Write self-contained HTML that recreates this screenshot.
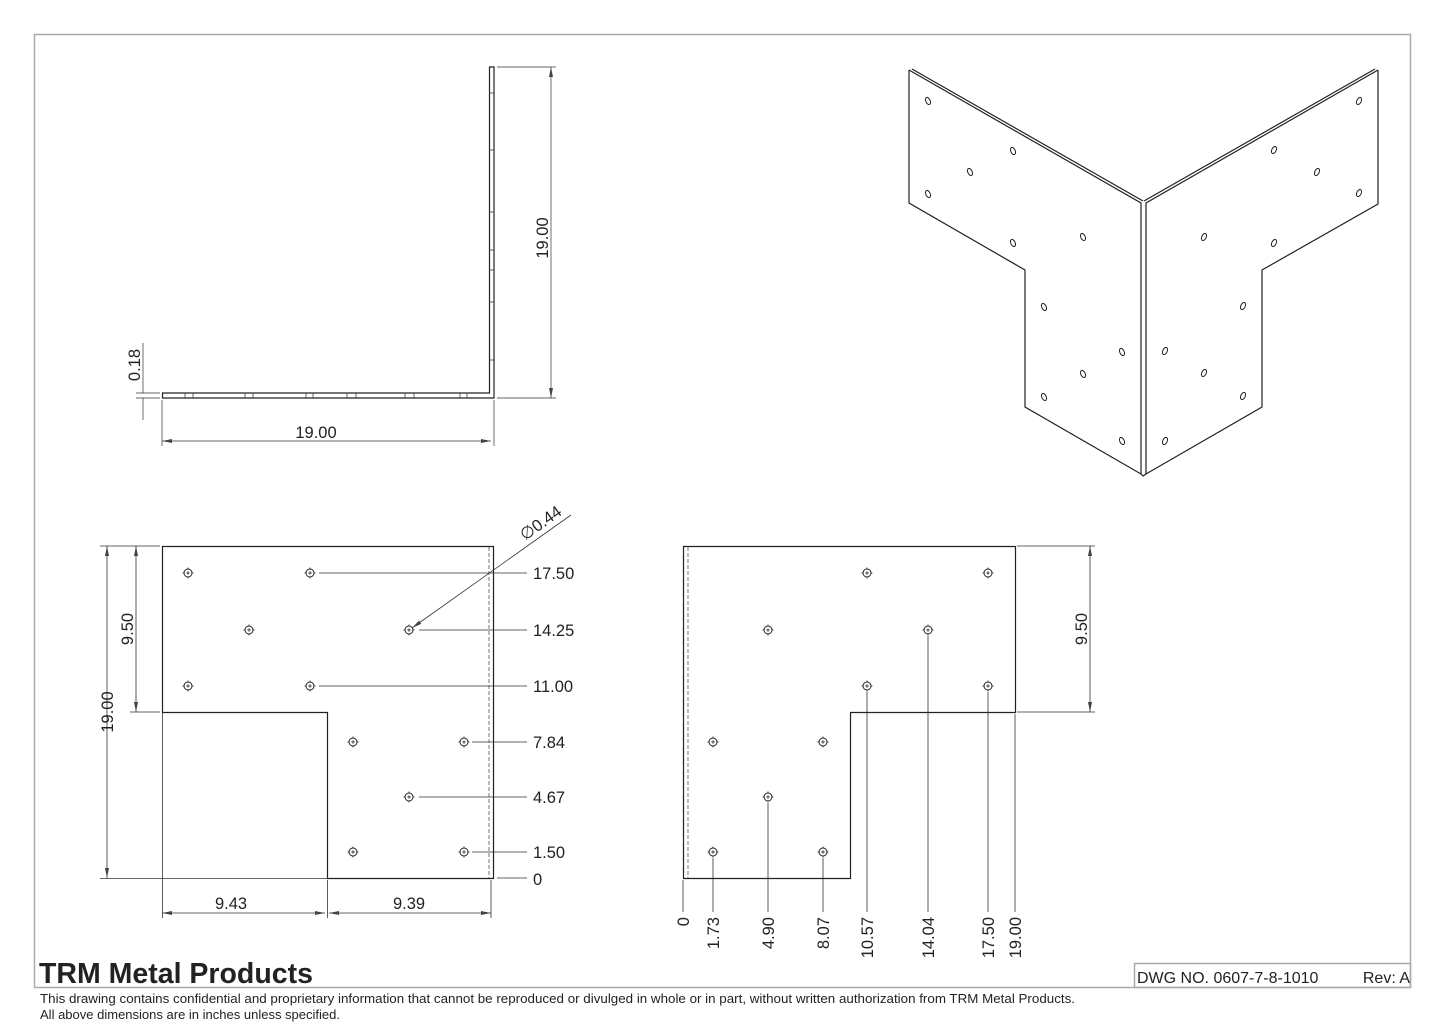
<!DOCTYPE html>
<html><head><meta charset="utf-8"><style>
html,body{margin:0;padding:0;background:#fff;}
svg{display:block;}
text{font-family:"Liberation Sans",sans-serif;fill:#222;}
</style></head><body>
<svg width="1445" height="1022" viewBox="0 0 1445 1022" xmlns="http://www.w3.org/2000/svg">
<defs>
<g id="h"><circle r="4" fill="none" stroke="#222" stroke-width="1"/><path d="M-1.8 0H1.8M0 -1.8V1.8M-5.5 0H-4M4 0H5.5M0 -5.5V-4M0 4V5.5" stroke="#222" stroke-width="0.8"/></g>
<marker id="a" viewBox="0 0 10 4" refX="10" refY="2" markerWidth="10" markerHeight="4" orient="auto-start-reverse" markerUnits="userSpaceOnUse"><path d="M0 0L10 2L0 4z" fill="#444"/></marker>
</defs>
<!-- frame -->
<rect x="34.5" y="34.5" width="1376" height="953" fill="none" stroke="#aaa" stroke-width="1.5"/>
<rect x="1134.5" y="963.5" width="276" height="24" fill="none" stroke="#aaa" stroke-width="1.5"/>
<text x="1137" y="983" font-size="16">DWG NO. 0607-7-8-1010</text>
<text x="1410" y="983" font-size="16" text-anchor="end">Rev: A</text>
<text x="39" y="983" font-size="28.5" font-weight="bold" fill="#111">TRM Metal Products</text>
<text x="40" y="1003" font-size="13" textLength="1035" lengthAdjust="spacingAndGlyphs">This drawing contains confidential and proprietary information that cannot be reproduced or divulged in whole or in part, without written authorization from TRM Metal Products.</text>
<text x="40" y="1019" font-size="13" textLength="300" lengthAdjust="spacingAndGlyphs">All above dimensions are in inches unless specified.</text>

<!-- TOP LEFT L view -->
<g stroke="#222" fill="none" stroke-width="1.2">
<path d="M489.5 67V393H162.5V398H494V67Z"/>
</g>
<g stroke="#333" stroke-width="0.7">
<path d="M489 93h5M489 150h5M489 212h5M489 250h5M489 270h5M489 302h5M489 360h5M185 393v5M193 393v5M245 393v5M253 393v5M306 393v5M313 393v5M347 393v5M356 393v5M405 393v5M414 393v5M460 393v5M467 393v5"/>
<path d="M497 67H556M497 398H556"/>
<path d="M551 67V398" marker-start="url(#a)" marker-end="url(#a)"/>
<path d="M162 400V446M494 400V446"/>
<path d="M162 441H491" marker-start="url(#a)" marker-end="url(#a)"/>
<path d="M143 343V393M143 398V420M136 393H160M136 398H160"/>
</g>
<g font-size="16.5">
<text text-anchor="middle" transform="translate(548 238) rotate(-90)">19.00</text>
<text x="316" y="438" text-anchor="middle">19.00</text>
<text text-anchor="middle" transform="translate(140 365) rotate(-90)">0.18</text>
</g>

<!-- ISO view -->
<g stroke="#222" fill="none" stroke-width="1.2">
<path d="M909 70V203L1025 270V407L1141 474V203L909 70"/>
<path d="M912 69L1143 201"/>
<path d="M1378 70V204L1262 270V407L1146 474V203L1378 70"/>
<path d="M1375 69L1144 201"/>
<path d="M1141 474L1143 476L1146 474"/>
</g>
<g fill="none" stroke="#222" stroke-width="1">
<ellipse cx="928" cy="101" rx="2.2" ry="3.8" transform="rotate(-25 928 101)"/>
<ellipse cx="1013" cy="151" rx="2.2" ry="3.8" transform="rotate(-25 1013 151)"/>
<ellipse cx="970" cy="172" rx="2.2" ry="3.8" transform="rotate(-25 970 172)"/>
<ellipse cx="928" cy="194" rx="2.2" ry="3.8" transform="rotate(-25 928 194)"/>
<ellipse cx="1013" cy="243" rx="2.2" ry="3.8" transform="rotate(-25 1013 243)"/>
<ellipse cx="1083" cy="237" rx="2.2" ry="3.8" transform="rotate(-25 1083 237)"/>
<ellipse cx="1044" cy="307" rx="2.2" ry="3.8" transform="rotate(-25 1044 307)"/>
<ellipse cx="1122" cy="352" rx="2.2" ry="3.8" transform="rotate(-25 1122 352)"/>
<ellipse cx="1083" cy="374" rx="2.2" ry="3.8" transform="rotate(-25 1083 374)"/>
<ellipse cx="1044" cy="397" rx="2.2" ry="3.8" transform="rotate(-25 1044 397)"/>
<ellipse cx="1122" cy="441" rx="2.2" ry="3.8" transform="rotate(-25 1122 441)"/>
<ellipse cx="1359" cy="101" rx="2.2" ry="3.8" transform="rotate(25 1359 101)"/>
<ellipse cx="1274" cy="150" rx="2.2" ry="3.8" transform="rotate(25 1274 150)"/>
<ellipse cx="1317" cy="172" rx="2.2" ry="3.8" transform="rotate(25 1317 172)"/>
<ellipse cx="1359" cy="193" rx="2.2" ry="3.8" transform="rotate(25 1359 193)"/>
<ellipse cx="1204" cy="237" rx="2.2" ry="3.8" transform="rotate(25 1204 237)"/>
<ellipse cx="1274" cy="243" rx="2.2" ry="3.8" transform="rotate(25 1274 243)"/>
<ellipse cx="1243" cy="306" rx="2.2" ry="3.8" transform="rotate(25 1243 306)"/>
<ellipse cx="1165" cy="351" rx="2.2" ry="3.8" transform="rotate(25 1165 351)"/>
<ellipse cx="1204" cy="373" rx="2.2" ry="3.8" transform="rotate(25 1204 373)"/>
<ellipse cx="1243" cy="396" rx="2.2" ry="3.8" transform="rotate(25 1243 396)"/>
<ellipse cx="1165" cy="441" rx="2.2" ry="3.8" transform="rotate(25 1165 441)"/>
</g>

<!-- BOTTOM LEFT flat view -->
<g stroke="#222" fill="none" stroke-width="1.2">
<path d="M162.5 546.5H493.5V878.5H327.5V712.5H162.5Z"/>
</g>
<path d="M489 547V878" stroke="#555" stroke-width="0.8" stroke-dasharray="4 2" fill="none"/>
<g stroke="#333" stroke-width="0.8" fill="none">
<path d="M319 573H527M419 630H527M319 686H527M472 742H527M419 797H527M472 852H527M497 878H527"/>
<path d="M160 546H100M100 878.5H327M160 712H130"/>
<path d="M107 546V878" marker-start="url(#a)" marker-end="url(#a)"/>
<path d="M136 546V712" marker-start="url(#a)" marker-end="url(#a)"/>
<path d="M162.5 712V918M327.5 880V918M491 880V918"/>
<path d="M162 913H325" marker-start="url(#a)" marker-end="url(#a)"/>
<path d="M329 913H491" marker-start="url(#a)" marker-end="url(#a)"/>
<path d="M571 515L412 628" marker-end="url(#a)"/>
</g>
<use href="#h" x="188" y="573"/><use href="#h" x="310" y="573"/><use href="#h" x="249" y="630"/><use href="#h" x="409" y="630"/><use href="#h" x="188" y="686"/><use href="#h" x="310" y="686"/><use href="#h" x="353" y="742"/><use href="#h" x="464" y="742"/><use href="#h" x="409" y="797"/><use href="#h" x="353" y="852"/><use href="#h" x="464" y="852"/>
<g font-size="16.5">
<text x="533" y="579">17.50</text><text x="533" y="636">14.25</text><text x="533" y="692">11.00</text><text x="533" y="748">7.84</text><text x="533" y="803">4.67</text><text x="533" y="858">1.50</text><text x="533" y="885">0</text>
<text x="231" y="909" text-anchor="middle">9.43</text><text x="409" y="909" text-anchor="middle">9.39</text>
<text text-anchor="middle" transform="translate(113 712) rotate(-90)">19.00</text>
<text text-anchor="middle" transform="translate(133 629) rotate(-90)">9.50</text>
<text transform="translate(525 541) rotate(-35.5)">∅0.44</text>
</g>

<!-- BOTTOM RIGHT flat view -->
<g stroke="#222" fill="none" stroke-width="1.2">
<path d="M683.5 546.5H1015.5V712.5H850.5V878.5H683.5Z"/>
</g>
<path d="M688 547V878" stroke="#555" stroke-width="0.8" stroke-dasharray="4 2" fill="none"/>
<g stroke="#333" stroke-width="0.8" fill="none">
<path d="M683 880V912M713 858V912M768 803V912M823 858V912M867 692V912M928 636V912M988 692V912M1015 714V912"/>
<path d="M1017 546H1095M1017 712H1095"/>
<path d="M1090 546V712" marker-start="url(#a)" marker-end="url(#a)"/>
</g>
<use href="#h" x="867" y="573"/><use href="#h" x="988" y="573"/><use href="#h" x="768" y="630"/><use href="#h" x="928" y="630"/><use href="#h" x="867" y="686"/><use href="#h" x="988" y="686"/><use href="#h" x="713" y="742"/><use href="#h" x="823" y="742"/><use href="#h" x="768" y="797"/><use href="#h" x="713" y="852"/><use href="#h" x="823" y="852"/>
<g font-size="16.5" text-anchor="end">
<text transform="translate(689 917) rotate(-90)">0</text>
<text transform="translate(719 917) rotate(-90)">1.73</text>
<text transform="translate(774 917) rotate(-90)">4.90</text>
<text transform="translate(829 917) rotate(-90)">8.07</text>
<text transform="translate(873 917) rotate(-90)">10.57</text>
<text transform="translate(934 917) rotate(-90)">14.04</text>
<text transform="translate(994 917) rotate(-90)">17.50</text>
<text transform="translate(1021 917) rotate(-90)">19.00</text>
<text text-anchor="middle" transform="translate(1087 629) rotate(-90)">9.50</text>
</g>
</svg>
</body></html>
